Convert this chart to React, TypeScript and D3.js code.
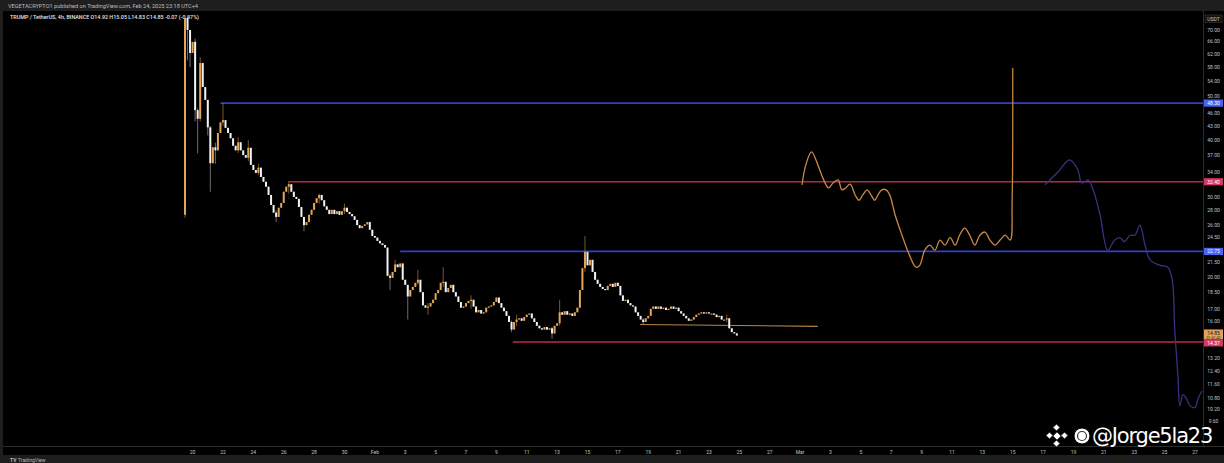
import React from "react";
import * as d3 from "d3";

const W = 1224;
const H = 463;

// ---------- DATA ----------
const firstCandle = "2025-01-19T12"; // 4h candles from here
const firstOpen = 27.4;
const closes = [
  74.4, 70.0, 62.3, 65.9, 46.6, 44.6, 59.2, 52.4, 49.1, 42.7,
  35.6, 38.6, 38.0, 41.5, 43.8, 44.3, 42.6, 41.5, 40.4, 38.9,
  38.0, 39.6, 38.0, 37.1, 36.6, 38.5, 35.3, 34.4, 33.9, 34.8,
  33.2, 32.4, 31.6, 30.3, 28.8, 27.7, 27.1, 28.4, 29.1, 30.8,
  31.6, 32.0, 30.8, 30.0, 29.7, 28.5, 27.1, 26.0, 26.4, 27.4,
  28.1, 29.1, 29.8, 30.3, 29.5, 28.6, 28.1, 27.5, 28.1, 27.5,
  27.9, 27.4, 27.9, 28.4, 27.8, 27.5, 27.2, 26.7, 26.0, 25.6,
  25.9, 26.1, 26.4, 25.4, 24.6, 24.4, 24.0, 23.7, 23.5, 23.2,
  20.1, 19.9, 20.5, 21.3, 21.0, 21.4, 19.7, 19.2, 18.1, 18.7,
  19.0, 19.4, 19.7, 18.5, 17.3, 17.1, 17.2, 17.5, 17.8, 18.4,
  18.7, 19.4, 19.5, 18.5, 18.9, 19.2, 18.5, 18.1, 17.6, 17.1,
  17.2, 17.5, 17.7, 17.8, 17.2, 16.7, 16.9, 16.6, 16.7, 17.1,
  17.2, 17.3, 17.6, 18.0, 17.5, 17.1, 16.8, 16.4, 15.9, 15.3,
  15.9, 16.1, 16.2, 16.0, 16.3, 16.5, 16.6, 16.2, 15.9, 15.6,
  15.4, 15.3, 15.5, 15.3, 15.4, 15.0, 15.6, 15.8, 16.7, 16.5,
  16.8, 16.5, 16.6, 16.4, 16.7, 17.1, 18.7, 20.9, 22.7, 21.2,
  21.8, 20.5, 19.7, 19.3, 19.0, 18.8, 18.7, 19.1, 19.3, 19.0,
  19.4, 19.1, 18.2, 17.7, 17.8, 17.5, 17.3, 17.2, 16.7, 16.4,
  16.1, 15.9, 16.2, 16.4, 17.0, 17.2, 17.0, 17.2, 17.0, 17.1,
  16.9, 17.0, 17.2, 17.0, 17.1, 16.8, 16.6, 16.4, 16.2, 16.0,
  16.1, 16.3, 16.5, 16.6, 16.7, 16.6, 16.7, 16.6, 16.6, 16.5,
  16.3, 16.4, 16.1, 16.1, 16.2, 15.4, 15.1, 15.0, 14.85,
];
// [candle index, high, low]
const wicks: [number, number, number][] = [
  [0, 75.5, 27.0], [1, 75.5, 60.0], [2, 70.0, 58.0], [4, 67.0, 44.0],
  [5, 47.0, 37.4], [6, 61.0, 44.0], [9, 49.0, 41.0], [10, 43.0, 30.8],
  [12, 39.5, 35.5], [15, 48.3, 43.0], [21, 40.6, 37.5], [25, 40.0, 36.0],
  [29, 35.5, 33.5], [36, 28.0, 26.4], [41, 32.5, 30.5], [47, 26.4, 25.2],
  [53, 30.5, 29.0], [63, 29.0, 27.5], [81, 20.3, 18.7], [83, 21.8, 20.8],
  [88, 19.0, 16.1], [92, 20.7, 19.2], [96, 17.5, 16.5], [102, 21.0, 19.0],
  [113, 18.2, 17.0], [129, 16.0, 15.1], [131, 16.5, 15.6], [145, 15.5, 14.6],
  [148, 17.8, 15.6], [158, 24.6, 20.5], [181, 16.2, 15.7], [214, 16.5, 15.9],
  [218, 15.05, 14.83],
];

const levelPrices = [48.3, 32.4, 22.75, 14.37];
const levelStarts = ["2025-01-21T20", "2025-01-26T08", "2025-02-02T16", "2025-02-10T02"];
const levelLabels = ["48.30", "32.40", "22.75", "14.37"];

const trendLine: [string, number][] = [["2025-02-18T11", 15.7], ["2025-03-02T04", 15.55]];

const orangePath: [string, number][] = [
  ["2025-03-01T03", 31.9], ["2025-03-01T09", 35.3], ["2025-03-01T18", 37.7],
  ["2025-03-02T04", 35.3], ["2025-03-02T12", 33.0], ["2025-03-02T21", 31.4],
  ["2025-03-03T04", 32.2], ["2025-03-03T12", 32.7], ["2025-03-03T18", 31.1],
  ["2025-03-04T00", 31.4], ["2025-03-04T07", 32.0], ["2025-03-04T15", 30.3],
  ["2025-03-04T21", 29.5], ["2025-03-05T03", 30.3], ["2025-03-05T10", 31.1],
  ["2025-03-05T16", 30.3], ["2025-03-05T22", 29.5], ["2025-03-06T03", 30.3],
  ["2025-03-06T09", 31.1], ["2025-03-06T16", 31.1], ["2025-03-06T22", 30.2],
  ["2025-03-07T06", 27.4], ["2025-03-07T17", 24.7], ["2025-03-08T05", 22.3],
  ["2025-03-08T15", 21.0], ["2025-03-08T21", 21.2], ["2025-03-09T05", 22.9],
  ["2025-03-09T13", 23.5], ["2025-03-09T21", 22.9], ["2025-03-10T05", 24.1],
  ["2025-03-10T13", 23.5], ["2025-03-10T21", 24.4], ["2025-03-11T05", 23.5],
  ["2025-03-11T12", 24.7], ["2025-03-11T20", 25.6], ["2025-03-12T04", 24.7],
  ["2025-03-12T12", 23.5], ["2025-03-12T20", 24.7], ["2025-03-13T04", 25.1],
  ["2025-03-13T12", 24.1], ["2025-03-13T20", 23.5], ["2025-03-14T04", 24.1],
  ["2025-03-14T12", 24.7], ["2025-03-14T20", 24.1], ["2025-03-14T23", 29.5],
  ["2025-03-15T00", 57.7],
];

const navyPath: [string, number][] = [
  ["2025-03-17T03", 31.9], ["2025-03-17T23", 34.0], ["2025-03-18T18", 36.2],
  ["2025-03-19T07", 34.4], ["2025-03-19T13", 32.2], ["2025-03-19T23", 32.7],
  ["2025-03-20T07", 31.1], ["2025-03-20T18", 27.4], ["2025-03-21T06", 22.9],
  ["2025-03-21T17", 24.1], ["2025-03-22T01", 24.4], ["2025-03-22T09", 23.9],
  ["2025-03-22T17", 24.7], ["2025-03-23T01", 24.7], ["2025-03-23T09", 26.0],
  ["2025-03-23T17", 23.5], ["2025-03-24T01", 21.8], ["2025-03-24T17", 21.2],
  ["2025-03-25T05", 21.0], ["2025-03-25T12", 19.7], ["2025-03-25T16", 15.3],
  ["2025-03-25T21", 12.1], ["2025-03-26T00", 10.4], ["2025-03-26T05", 11.0],
  ["2025-03-26T10", 10.8], ["2025-03-26T16", 10.4], ["2025-03-27T00", 10.3],
  ["2025-03-27T05", 10.8], ["2025-03-27T11", 11.2],
];

const priceTicks = [70, 66, 62, 58, 54, 50, 46, 43, 40, 37, 34, 30, 28, 26, 24.5, 21.5, 20, 18.5, 17, 16, 13.2, 12.4, 11.6, 10.8, 10.2, 9.6];

const dateTicks = [
  "2025-01-20", "2025-01-22", "2025-01-24", "2025-01-26", "2025-01-28", "2025-01-30",
  "2025-02-01", "2025-02-03", "2025-02-05", "2025-02-07", "2025-02-09", "2025-02-11",
  "2025-02-13", "2025-02-15", "2025-02-17", "2025-02-19", "2025-02-21", "2025-02-23",
  "2025-02-25", "2025-02-27", "2025-03-01", "2025-03-03", "2025-03-05", "2025-03-07",
  "2025-03-09", "2025-03-11", "2025-03-13", "2025-03-15", "2025-03-17", "2025-03-19",
  "2025-03-21", "2025-03-23", "2025-03-25", "2025-03-27",
];

const headerLine = "VEGETACRYPTO1 published on TradingView.com, Feb 24, 2025 23:18 UTC+4";
const symbolLine = "TRUMP / TetherUS, 4h, BINANCE  O14.92  H15.05  L14.83  C14.85  -0.07 (-0.47%)";
const lastPriceLabel = "14.85";
const lastPrice = 14.85;
const watermark = "@Jorge5la23";

// ---------- STYLES ----------
const UP = "#e3a55a";
const DOWN = "#f2f2f2";
const levelColors = ["#2e42c4", "#b02a4e", "#2e42c4", "#c2274f"];
const tagColors = ["#4a63f0", "#d23a62", "#4a63f0", "#d23a62"];
const FONT = "Roboto, 'Noto Sans', sans-serif";

export default function App() {
  const hour = d3.utcParse("%Y-%m-%dT%H");
  const day = d3.utcParse("%Y-%m-%d");
  const x = d3
    .scaleUtc()
    .domain([day("2025-01-20")!, day("2025-03-27")!])
    .range([192.6, 1195]);
  const y = d3.scaleLog().domain([9.6, 70]).range([421.4, 30]);

  const plotRight = 1203;
  const plotBottom = 446;
  const t0 = hour(firstCandle)!.getTime();
  const candles = closes.map((c, i) => {
    const o = i === 0 ? firstOpen : closes[i - 1];
    const w = wicks.find((d) => d[0] === i);
    const hi = w ? Math.max(w[1], o, c) : Math.max(o, c);
    const lo = w ? Math.min(w[2], o, c) : Math.min(o, c);
    return { t: new Date(t0 + i * 4 * 3600 * 1000), o, c, hi, lo };
  });

  const line = d3
    .line<[string, number]>()
    .x((d) => x(hour(d[0])!))
    .y((d) => y(d[1]))
    .curve(d3.curveCatmullRom.alpha(0.5));
  const straight = d3
    .line<[string, number]>()
    .x((d) => x(hour(d[0])!))
    .y((d) => y(d[1]));

  const fmtTick = (d: Date) =>
    d.getUTCDate() === 1 ? d3.utcFormat("%b")(d) : String(d.getUTCDate());

  const bw = 2.0;

  return (
    <div style={{ position: "absolute", left: 0, top: 0 }}>
      <svg width={W} height={H} style={{ display: "block", background: "#000" }}>
        {/* frame */}
        <rect x={0} y={0} width={W} height={H} fill="#1e1e1e" />
        <rect x={3} y={11} width={W - 3} height={444} fill="#000" />
        <text x={8} y={7.5} fill="#bdbdbd" fontSize={5.6} fontFamily={FONT}>
          {headerLine}
        </text>
        <text x={10} y={19} fill="#e6e6e6" fontSize={5.4} fontFamily={FONT} fontWeight={500}>
          {symbolLine}
        </text>

        <clipPath id="plot">
          <rect x={3} y={11} width={plotRight - 3} height={plotBottom - 11} />
        </clipPath>

        <g clipPath="url(#plot)">
          {/* level lines */}
          {levelPrices.map((p, i) => (
            <line
              key={"lv" + i}
              x1={x(hour(levelStarts[i])!)}
              x2={plotRight}
              y1={y(p)}
              y2={y(p)}
              stroke={levelColors[i]}
              strokeWidth={1.6}
            />
          ))}
          {/* trend line */}
          <path d={straight(trendLine)!} fill="none" stroke="#b7824a" strokeWidth={1.1} />

          {/* candles */}
          {candles.map((d, i) => {
            const cx = x(d.t);
            const up = d.c >= d.o;
            const col = up ? UP : DOWN;
            const top = y(Math.max(d.o, d.c));
            const bot = y(Math.min(d.o, d.c));
            return (
              <g key={"c" + i}>
                <line
                  x1={cx}
                  x2={cx}
                  y1={y(d.hi)}
                  y2={y(d.lo)}
                  stroke={up ? "#9a6c36" : "#8a8a8a"}
                  strokeWidth={0.8}
                />
                <rect
                  x={cx - bw / 2}
                  y={top}
                  width={bw}
                  height={Math.max(1.2, bot - top)}
                  fill={col}
                />
              </g>
            );
          })}

          {/* projections */}
          <path d={line(orangePath)!} fill="none" stroke="#c88845" strokeWidth={1.3} />
          <path d={line(navyPath)!} fill="none" stroke="#37327f" strokeWidth={1.3} />
        </g>

        {/* axes separators */}
        <line x1={plotRight + 0.5} x2={plotRight + 0.5} y1={11} y2={plotBottom} stroke="#2c2c2c" />
        <line x1={3} x2={W} y1={plotBottom + 0.5} y2={plotBottom + 0.5} stroke="#2c2c2c" />

        {/* price axis */}
        <rect x={1205} y={15} width={17} height={7.5} fill="#111" stroke="#3a3a3a" strokeWidth={0.6} />
        <text x={1213.5} y={20.6} fill="#c8c8c8" fontSize={5} textAnchor="middle" fontFamily={FONT}>
          USDT
        </text>
        {priceTicks.map((p) => (
          <text
            key={"pt" + p}
            x={1213.5}
            y={y(p) + 1.8}
            fill="#c4c4c4"
            fontSize={5}
            textAnchor="middle"
            fontFamily={FONT}
          >
            {p.toFixed(2)}
          </text>
        ))}
        {levelPrices.slice(0, 3).map((p, i) => (
          <g key={"tag" + i}>
            <rect x={1204} y={y(p) - 3.6} width={19} height={7.2} fill={tagColors[i]} />
            <text x={1213.5} y={y(p) + 1.8} fill="#fff" fontSize={5} textAnchor="middle" fontFamily={FONT}>
              {levelLabels[i]}
            </text>
          </g>
        ))}
        {/* last price + bottom level tags */}
        <rect x={1204} y={y(lastPrice) - 6} width={19} height={10} fill="#e0a45e" />
        <text x={1213.5} y={y(lastPrice) - 0.6} fill="#111" fontSize={5} textAnchor="middle" fontFamily={FONT}>
          {lastPriceLabel}
        </text>
        <text x={1213.5} y={y(lastPrice) + 3.4} fill="#222" fontSize={3.6} textAnchor="middle" fontFamily={FONT}>
          01:41:43
        </text>
        <rect x={1204} y={y(lastPrice) + 4} width={19} height={7} fill={tagColors[3]} />
        <text x={1213.5} y={y(lastPrice) + 9.3} fill="#fff" fontSize={5} textAnchor="middle" fontFamily={FONT}>
          {levelLabels[3]}
        </text>

        {/* time axis */}
        {dateTicks.map((s) => {
          const d = day(s)!;
          return (
            <text
              key={"dt" + s}
              x={x(d)}
              y={453.5}
              fill="#c4c4c4"
              fontSize={5}
              textAnchor="middle"
              fontFamily={FONT}
            >
              {fmtTick(d)}
            </text>
          );
        })}

        {/* bottom bar */}
        <rect x={0} y={456} width={W} height={7} fill="#1e1e1e" />
        <text x={10} y={462} fill="#bbb" fontSize={5} fontFamily={FONT} fontWeight={700}>
          TV
        </text>
        <text x={18} y={462} fill="#bbb" fontSize={5} fontFamily={FONT}>
          TradingView
        </text>

        {/* watermark */}
        <g transform="translate(1057,436)" fill="#fff" stroke="#000" strokeWidth={0.8}>
          <rect x={-3} y={-3} width={6} height={6} transform="rotate(45)" />
          <rect x={-10} y={-3} width={5} height={5} transform="rotate(45 -7.5 -0.5)" />
          <rect x={5} y={-3} width={5} height={5} transform="rotate(45 7.5 -0.5)" />
          <rect x={-3} y={-11} width={5} height={5} transform="rotate(45 -0.5 -8.5)" />
          <rect x={-3} y={5} width={5} height={5} transform="rotate(45 -0.5 7.5)" />
        </g>
        <circle cx={1082} cy={436} r={8} fill="#fff" stroke="#000" strokeWidth={1} />
        <circle cx={1082} cy={436} r={4.5} fill="none" stroke="#333" strokeWidth={1.2} />
        <text
          x={1092}
          y={443}
          fill="#fff"
          stroke="#000"
          strokeWidth={1}
          paintOrder="stroke"
          fontSize={21}
          fontFamily="'DejaVu Sans', sans-serif"
          letterSpacing={-1.2}
        >
          {watermark}
        </text>
      </svg>
    </div>
  );
}
